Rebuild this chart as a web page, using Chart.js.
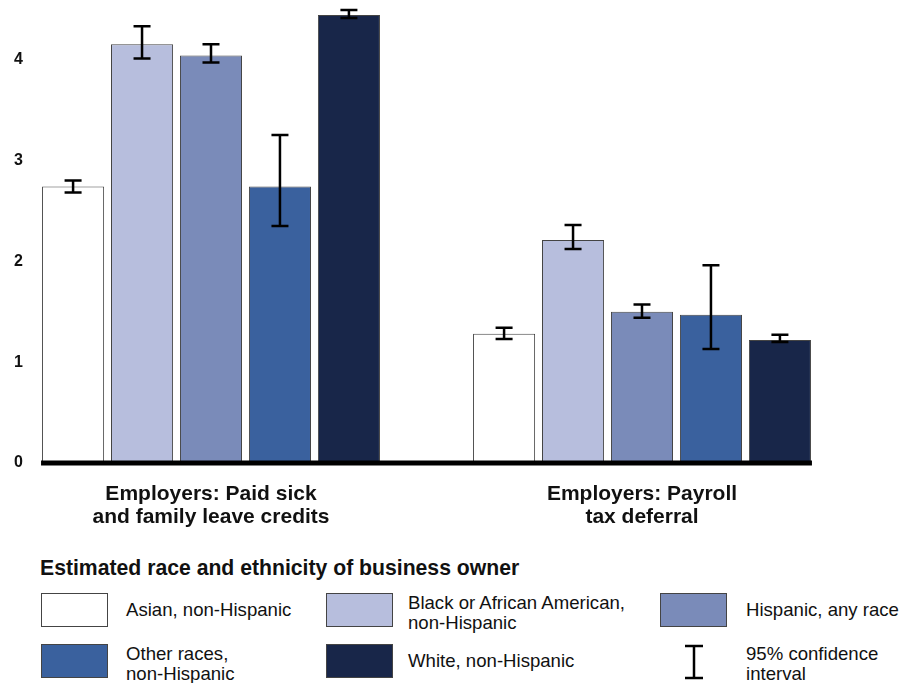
<!DOCTYPE html>
<html>
<head>
<meta charset="utf-8">
<script src="https://cdn.jsdelivr.net/npm/chart.js@4.4.1/dist/chart.umd.min.js"></script>
<style>
  body { margin: 0; background: #fff; font-family: "Liberation Sans", Arial, sans-serif; }
  #wrap { position: relative; width: 913px; height: 683px; overflow: hidden; background: #fff; }
  #cvbox { position: absolute; left: 0; top: 0; width: 913px; height: 540px; }
  .ltitle { position: absolute; left: 40px; top: 555px; font-weight: bold; font-size: 21.2px; line-height: 26px; color: #111; white-space: nowrap; }
  .sw { position: absolute; width: 67px; height: 34px; border: 1px solid #444; box-sizing: border-box; }
  .tx { position: absolute; font-size: 18.6px; line-height: 20px; color: #111; white-space: nowrap; }
</style>
</head>
<body>
<div id="wrap">
  <div id="cvbox"><canvas id="c"></canvas></div>
  <div class="ltitle">Estimated race and ethnicity of business owner</div>
  <div id="legend"></div>
  <svg style="position:absolute;left:680px;top:640px" width="30" height="44">
    <g stroke="#000" stroke-width="2.5" fill="none">
      <line x1="14" y1="6" x2="14" y2="38"/>
      <line x1="5" y1="6" x2="23" y2="6"/>
      <line x1="5" y1="38" x2="23" y2="38"/>
    </g>
  </svg>
  <div class="tx" style="left:746px;top:644px">95% confidence<br>interval</div>
</div>
<script>
// ---- Data ----
const categories = [["Employers: Paid sick", "and family leave credits"], ["Employers: Payroll", "tax deferral"]];
const seriesNames = ["Asian, non-Hispanic", "Black or African American,\nnon-Hispanic", "Hispanic, any race", "Other races,\nnon-Hispanic", "White, non-Hispanic"];
const seriesColors = ["#ffffff", "#b7bedd", "#7a8bb9", "#3a619e", "#182649"];

const asianValues    = [2.74, 1.28];
const blackValues    = [4.15, 2.21];
const hispanicValues = [4.04, 1.50];
const otherValues    = [2.74, 1.47];
const whiteValues    = [4.44, 1.22];

const asianCI    = [[2.68, 2.80], [1.23, 1.34]];
const blackCI    = [[4.01, 4.33], [2.12, 2.36]];
const hispanicCI = [[3.97, 4.15], [1.44, 1.57]];
const otherCI    = [[2.35, 3.25], [1.13, 1.96]];
const whiteCI    = [[4.41, 4.49], [1.20, 1.27]];

const yTicks = [0, 1, 2, 3, 4];

const seriesValues = [asianValues, blackValues, hispanicValues, otherValues, whiteValues];
const seriesCI = [asianCI, blackCI, hispanicCI, otherCI, whiteCI];

// ---- HTML legend ----
const legendCols = [41, 326, 660];
const legendTextX = [126, 408, 746];
const legendRows = [593, 644];
const legendEl = document.getElementById('legend');
seriesNames.forEach((name, i) => {
  const col = i % 3, row = Math.floor(i / 3);
  const sw = document.createElement('div');
  sw.className = 'sw';
  sw.style.left = legendCols[col] + 'px';
  sw.style.top = legendRows[row] + 'px';
  sw.style.background = seriesColors[i];
  legendEl.appendChild(sw);
  const lines = name.split('\n');
  const tx = document.createElement('div');
  tx.className = 'tx';
  const center = legendRows[row] + 17;
  const top = center - lines.length * 10 + (lines.length > 1 ? 3 : 0);
  tx.style.left = legendTextX[col] + 'px';
  tx.style.top = top + 'px';
  lines.forEach((l, k) => { if (k) tx.appendChild(document.createElement('br')); tx.appendChild(document.createTextNode(l)); });
  legendEl.appendChild(tx);
});

// ---- Chart ----
Chart.defaults.font.family = "'Liberation Sans', Arial, sans-serif";
Chart.defaults.color = '#111';

const errorBarPlugin = {
  id: 'errorBarPlugin',
  afterDatasetsDraw(chart) {
    const ctx = chart.ctx;
    const yS = chart.scales.y;
    const y0 = yS.getPixelForValue(0);
    const n = chart.data.datasets.length;
    const first = chart.getDatasetMeta(0).data[0];
    const lastMeta = chart.getDatasetMeta(n - 1);
    const last = lastMeta.data[lastMeta.data.length - 1];
    ctx.save();
    // zero baseline
    ctx.strokeStyle = '#000';
    ctx.lineWidth = 5;
    ctx.beginPath();
    ctx.moveTo(first.x - first.width / 2 - 1, y0);
    ctx.lineTo(last.x + last.width / 2 + 1, y0);
    ctx.stroke();
    // error bars
    ctx.lineWidth = 2.5;
    ctx.lineCap = 'butt';
    for (let d = 0; d < n; d++) {
      const meta = chart.getDatasetMeta(d);
      meta.data.forEach((bar, i) => {
        const ci = seriesCI[d][i];
        const lo = yS.getPixelForValue(ci[0]);
        const hi = yS.getPixelForValue(ci[1]);
        const x = bar.x, hw = 8.5;
        ctx.beginPath();
        ctx.moveTo(x, lo); ctx.lineTo(x, hi);
        ctx.moveTo(x - hw, lo); ctx.lineTo(x + hw, lo);
        ctx.moveTo(x - hw, hi); ctx.lineTo(x + hw, hi);
        ctx.stroke();
      });
    }
    ctx.restore();
  }
};

const datasets = seriesValues.map((vals, d) => ({
  label: seriesNames[d].replace('\n', ' '),
  data: vals.map((v, i) => ({ x: i, y: v })),
  backgroundColor: seriesColors[d],
  borderColor: '#444',
  borderWidth: 1,
  borderSkipped: false,
  categoryPercentage: 0.8,
  barPercentage: 0.9,
  clip: false
}));

new Chart(document.getElementById('c'), {
  type: 'bar',
  data: { datasets },
  plugins: [errorBarPlugin],
  options: {
    responsive: true,
    maintainAspectRatio: false,
    animation: false,
    devicePixelRatio: 1,
    layout: { padding: { left: 0, right: 10, top: 9, bottom: 0 } },
    plugins: { legend: { display: false }, tooltip: { enabled: false } },
    scales: {
      x: {
        type: 'linear',
        offset: false,
        min: -0.40835,
        max: 1.60557,
        grid: { display: false, drawTicks: false },
        border: { display: false },
        afterBuildTicks: (axis) => { axis.ticks = categories.map((_, i) => ({ value: i })); },
        afterFit: (axis) => { axis.height = 77; axis.paddingLeft = 0; axis.paddingRight = 0; },
        ticks: {
          autoSkip: false,
          maxRotation: 0,
          padding: 20,
          color: '#111',
          font: { size: 21, weight: 'bold', lineHeight: 1.1 },
          callback: (v) => categories[v]
        }
      },
      y: {
        min: 0,
        max: 4.5,
        grid: { display: false, drawTicks: false },
        border: { display: false },
        afterBuildTicks: (axis) => { axis.ticks = yTicks.map(v => ({ value: v })); },
        afterFit: (axis) => { axis.width = 35; axis.paddingTop = 0; axis.paddingBottom = 0; },
        ticks: {
          padding: 12,
          color: '#111',
          font: { size: 16, weight: 'bold' },
          callback: (v) => String(v)
        }
      }
    }
  }
});
</script>
</body>
</html>
